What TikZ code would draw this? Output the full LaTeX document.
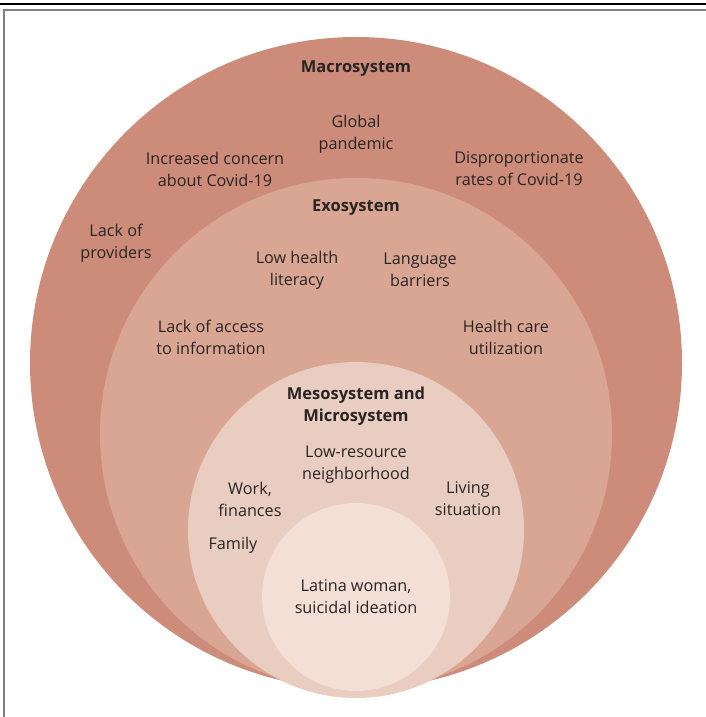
\documentclass[tikz,border=0pt]{standalone}
\usepackage{fontspec}
\setmainfont{Open Sans}
\definecolor{macro}{RGB}{205,140,121}
\definecolor{exo}{RGB}{218,166,148}
\definecolor{meso}{RGB}{233,205,193}
\definecolor{micro}{RGB}{243,223,214}
\definecolor{txt}{RGB}{40,36,36}
\begin{document}
\begin{tikzpicture}[x=1pt,y=-1pt,
  lbl/.style={align=center,text=txt,font=\fontsize{16.2}{22}\selectfont,inner sep=0pt},
  ttl/.style={lbl,font=\fontsize{16.5}{22}\selectfont\bfseries}]
\useasboundingbox (0,0) rectangle (706,717);
\fill[white] (0,0) rectangle (706,717);
% frame
\draw[black,line width=1.5pt] (0,4) -- (706,4);
\draw[gray,line width=2pt] (3.5,717) -- (3.5,10.5) -- (706,10.5);
% circles
\fill[macro] (356,363) circle (326);
\fill[exo] (356,434) circle (256);
\fill[meso] (356,530) circle (168);
\fill[micro] (356,597) circle (94);
% labels
\node[ttl] (macro) at (356,69) {Macrosystem};
\node[lbl] (global) at (356,134) {Global\\pandemic};
\node[lbl] (concern) at (215,169) {Increased concern\\about Covid-19};
\node[lbl] (dispro) at (519,169) {Disproportionate\\rates of Covid-19};
\node[lbl] (lack) at (116,243) {Lack of\\providers};
\node[ttl] (exo) at (356,208) {Exosystem};
\node[lbl] (lit) at (297,270) {Low health\\literacy};
\node[lbl] (lang) at (420,270) {Language\\barriers};
\node[lbl] (info) at (211,337) {Lack of access\\to information};
\node[lbl] (util) at (506,337) {Health care\\utilization};
\node[ttl] (meso) at (356,406) {Mesosystem and\\Microsystem};
\node[lbl] (nbh) at (356,465) {Low-resource\\neighborhood};
\node[lbl] (work) at (250,499) {Work,\\finances};
\node[lbl] (living) at (468,499) {Living\\situation};
\node[lbl] (family) at (233,545) {Family};
\node[lbl] (woman) at (356,597) {Latina woman,\\suicidal ideation};
\end{tikzpicture}
\end{document}
